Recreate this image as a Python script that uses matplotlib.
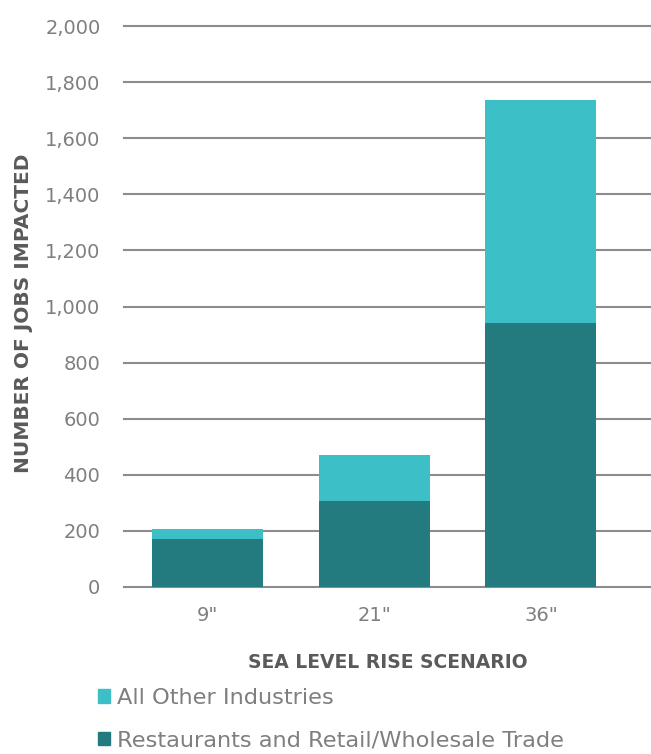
import matplotlib.pyplot as plt
from matplotlib.patches import Patch

# Values
SCENARIOS = ['9"', '21"', '36"']
RESTAURANTS_RETAIL = [170, 308, 940]
OTHER_INDUSTRIES = [37, 163, 795]
Y_TICKS = [0, 200, 400, 600, 800, 1000, 1200, 1400, 1600, 1800, 2000]

DARK = "#237B80"
LIGHT = "#3DBFC8"
GRID = "#8C8C8C"
TEXT = "#7F7F7F"
LABEL = "#5A5A5A"

plt.rcParams['font.family'] = ['DejaVu Sans']

fig = plt.figure(figsize=(6.51, 7.54), dpi=100)
ax = fig.add_axes([124 / 651, 1 - 587 / 754, 1 - 124 / 651, (587 - 26) / 754])

x = range(len(SCENARIOS))
ax.bar(x, RESTAURANTS_RETAIL, width=0.665, color=DARK, zorder=3)
ax.bar(x, OTHER_INDUSTRIES, bottom=RESTAURANTS_RETAIL, width=0.665,
       color=LIGHT, zorder=3)

ax.set_ylim(0, 2000)
ax.set_xlim(-0.5, 2.66)
ax.set_yticks(Y_TICKS, [f"{v:,}" for v in Y_TICKS])
ax.set_xticks(list(x), SCENARIOS)
ax.yaxis.grid(True, color=GRID, linewidth=1.5, zorder=0)
for line in ax.get_ygridlines():
    line.set_clip_on(False)
for s in ax.spines.values():
    s.set_visible(False)
ax.tick_params(axis="both", length=0, labelsize=14, labelcolor=TEXT)
ax.tick_params(axis="y", pad=17)
ax.tick_params(axis="x", pad=14)

ax.set_xlabel("SEA LEVEL RISE SCENARIO", fontsize=13.5, fontweight="bold",
              color=LABEL, labelpad=20)
fig.text(24 / 651, 1 - 313 / 754, "NUMBER OF JOBS IMPACTED", rotation=90,
         fontsize=14.5, fontweight="bold", color=LABEL, ha="center", va="center")

handles = [Patch(color=LIGHT), Patch(color=DARK)]
fig.legend(handles, ["All Other Industries", "Restaurants and Retail/Wholesale Trade"],
           loc="upper left", bbox_to_anchor=(98 / 651, 1 - 688 / 754),
           frameon=False, fontsize=16.2, labelcolor=TEXT, handlelength=0.55,
           handleheight=0.55, handletextpad=0.3, labelspacing=1.0,
           borderaxespad=0, borderpad=0)

plt.savefig("out.png", dpi=100)
